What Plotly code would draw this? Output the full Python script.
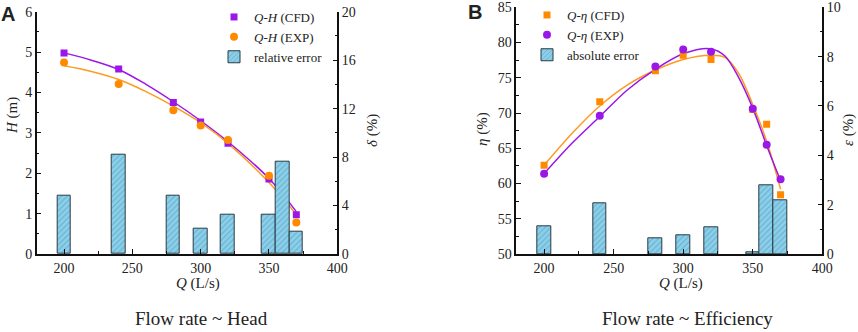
import plotly.graph_objects as go

# ---------------- data ----------------
Q = [200, 240, 280, 300, 320, 350, 360, 370]
Q_pts = [200, 240, 280, 300, 320, 350, 370]

# Panel A : head
H_cfd = [4.98, 4.58, 3.75, 3.27, 2.74, 1.86, 0.97]
H_exp = [4.74, 4.21, 3.56, 3.18, 2.82, 1.94, 0.78]
H_err = [4.84, 8.23, 4.84, 2.12, 3.22, 3.22, 7.62, 1.87]

Q_fitA = [200, 220, 240, 260, 280, 300, 320, 350, 370]
H_fit_cfd = [4.98, 4.80, 4.57, 4.20, 3.77, 3.30, 2.78, 1.87, 1.05]
H_fit_exp = [4.66, 4.52, 4.32, 4.02, 3.66, 3.25, 2.74, 1.77, 0.98]

# Panel B : efficiency
E_cfd = [62.6, 71.6, 76.0, 78.2, 77.6, 70.5, 68.4, 58.4]
E_exp = [61.4, 69.6, 76.6, 79.0, 78.7, 70.6, 65.5, 60.6]
E_err = [1.11, 2.05, 0.62, 0.76, 1.09, 0.08, 2.80, 2.19]

Q_fitB = [200, 220, 240, 260, 280, 300, 320, 330, 340, 350, 360, 370]
E_fit_cfd = [62.6, 67.1, 71.0, 74.0, 76.1, 77.6, 78.2, 77.9, 75.6, 71.2, 66.0, 59.2]
E_fit_exp = [61.4, 65.7, 69.5, 73.3, 76.2, 78.4, 79.1, 78.1, 75.0, 70.7, 65.4, 60.4]

PURPLE = "#9b17e8"
ORANGE = "#ff9a1f"
ORANGE_M = "#ff8a00"
BAR_BG = "#8ccfe8"
BAR_FG = "#3b8cb8"
SERIF = "Liberation Serif"

fig = go.Figure()

def bar_trace(y, name, xa, ya, legend):
    return go.Bar(
        x=Q, y=y, width=10, name=name, xaxis=xa, yaxis=ya, legend=legend,
        marker=dict(color=BAR_BG, line=dict(color="#2a3a44", width=1),
                    pattern=dict(shape="/", fillmode="overlay", fgcolor=BAR_FG,
                                 size=4, solidity=0.25)),
    )

# ---- Panel A ----
fig.add_trace(go.Scatter(x=Q_fitA, y=H_fit_cfd, mode="lines", line=dict(color=PURPLE, width=1.5, shape="spline"),
                         xaxis="x", yaxis="y", showlegend=False, hoverinfo="skip"))
fig.add_trace(go.Scatter(x=Q_fitA, y=H_fit_exp, mode="lines", line=dict(color=ORANGE, width=1.5, shape="spline"),
                         xaxis="x", yaxis="y", showlegend=False, hoverinfo="skip"))
fig.add_trace(go.Scatter(x=Q_pts, y=H_cfd, mode="markers", name="<i>Q</i>-<i>H</i> (CFD)",
                         marker=dict(symbol="square", color=PURPLE, size=7),
                         xaxis="x", yaxis="y", legend="legend"))
fig.add_trace(go.Scatter(x=Q_pts, y=H_exp, mode="markers", name="<i>Q</i>-<i>H</i> (EXP)",
                         marker=dict(symbol="circle", color=ORANGE_M, size=8),
                         xaxis="x", yaxis="y", legend="legend"))
fig.add_trace(bar_trace(H_err, "relative error", "x", "y2", "legend"))

# ---- Panel B ----
fig.add_trace(go.Scatter(x=Q_fitB, y=E_fit_cfd, mode="lines",
                         line=dict(color=ORANGE, width=1.5, shape="spline", smoothing=0.9),
                         xaxis="x2", yaxis="y3", showlegend=False, hoverinfo="skip"))
fig.add_trace(go.Scatter(x=Q_fitB, y=E_fit_exp, mode="lines",
                         line=dict(color=PURPLE, width=1.5, shape="spline", smoothing=0.9),
                         xaxis="x2", yaxis="y3", showlegend=False, hoverinfo="skip"))
fig.add_trace(go.Scatter(x=Q, y=E_cfd, mode="markers", name="<i>Q</i>-<i>η</i> (CFD)",
                         marker=dict(symbol="square", color=ORANGE_M, size=7),
                         xaxis="x2", yaxis="y3", legend="legend2"))
fig.add_trace(go.Scatter(x=Q, y=E_exp, mode="markers", name="<i>Q</i>-<i>η</i> (EXP)",
                         marker=dict(symbol="circle", color=PURPLE, size=8),
                         xaxis="x2", yaxis="y3", legend="legend2"))
fig.add_trace(bar_trace(E_err, "absolute error", "x2", "y4", "legend2"))

W, H = 858, 332
def px(x): return x / W
def py(y): return (H - y) / H

tickfont = dict(family=SERIF, size=14, color="#222")
axis_common = dict(showline=True, linecolor="#111", linewidth=1.5, ticks="inside", ticklen=5,
                   tickwidth=1.2, tickcolor="#111", showgrid=False, zeroline=False,
                   tickfont=tickfont, automargin=False, fixedrange=True)

def minor(d):
    return dict(ticks="inside", ticklen=3, tickwidth=1.2, tickcolor="#111", dtick=d, showgrid=False)

legfont = dict(family=SERIF, size=13, color="#222")

fig.update_layout(
    width=W, height=H, margin=dict(l=0, r=0, t=0, b=0),
    paper_bgcolor="white", plot_bgcolor="rgba(0,0,0,0)",
    barmode="overlay", bargap=0,
    font=dict(family=SERIF, size=14, color="#222"),
    xaxis=dict(domain=[px(36.7), px(337.3)], range=[180, 400], tick0=200, dtick=50,
               anchor="y", minor=minor(25), **axis_common),
    yaxis=dict(domain=[py(254), py(11.7)], range=[0, 6], dtick=1, anchor="x",
               minor=minor(0.5), **axis_common),
    yaxis2=dict(overlaying="y", side="right", range=[0, 20], dtick=4, anchor="x",
                minor=minor(2), **axis_common),
    xaxis2=dict(domain=[px(516.3), px(822.3)], range=[180, 400], tick0=200, dtick=50,
                anchor="y3", minor=minor(25), **axis_common),
    yaxis3=dict(domain=[py(254), py(7.3)], range=[50, 85], dtick=5, anchor="x2",
                minor=minor(2.5), **axis_common),
    yaxis4=dict(overlaying="y3", side="right", range=[0, 10], dtick=2, anchor="x2",
                minor=minor(1), **axis_common),
    legend=dict(x=px(214), y=py(2), xanchor="left", yanchor="top", bgcolor="rgba(0,0,0,0)",
                font=legfont, tracegroupgap=0, itemwidth=30),
    legend2=dict(x=px(527), y=py(0), xanchor="left", yanchor="top", bgcolor="rgba(0,0,0,0)",
                 font=legfont, tracegroupgap=0, itemwidth=30),
    showlegend=True,
)

ann = []
def A(x, y, text, size=14, angle=0, family=SERIF, **kw):
    ann.append(dict(x=px(x), y=py(y), xref="paper", yref="paper", text=text, showarrow=False,
                    textangle=angle, font=dict(family=family, size=size, color="#222"),
                    xanchor="center", yanchor="middle", **kw))

A(198, 283, "<i>Q</i> (L/s)", 15)
A(12, 116, "<i>H</i> (m)", 15, -90)
A(372, 131, "<i>δ</i> (%)", 15, -90)
A(201, 318, "Flow rate ~ Head", 19)
A(8, 14, "<b>A</b>", 20, family="Liberation Sans")

A(681, 283, "<i>Q</i> (L/s)", 15)
A(483, 129, "<i>η</i> (%)", 15, -90)
A(848, 130, "<i>ε</i> (%)", 15, -90)
A(687, 318, "Flow rate ~ Efficiency", 19)
A(475, 12, "<b>B</b>", 20, family="Liberation Sans")

fig.update_layout(annotations=ann)
fig.write_html("out.html", config={"displayModeBar": False},
               post_script="document.body.style.margin='0';document.body.style.overflow='hidden';")
